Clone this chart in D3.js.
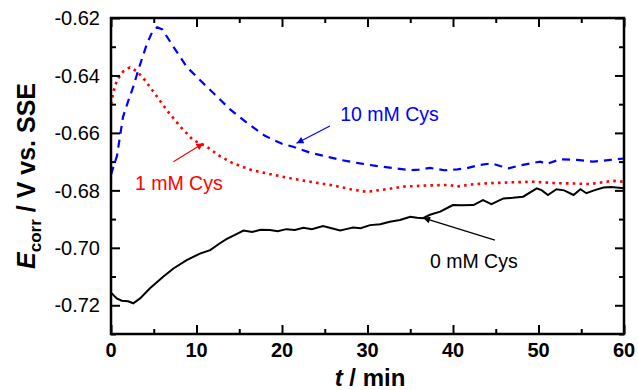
<!DOCTYPE html>
<html>
<head>
<meta charset="utf-8">
<script src="https://cdn.jsdelivr.net/npm/d3@7"></script>
<style>
  html, body { margin: 0; padding: 0; background: #fff; }
  svg { display: block; font-family: "Liberation Sans", Arial, sans-serif; }
</style>
</head>
<body>
<svg id="chart" width="638" height="390"></svg>
<script>
// Data: [t (min), Ecorr (V vs. SSE)]
const cys10 = [
  [0, -0.6745], [0.7, -0.668], [1.4, -0.6545], [2, -0.649], [2.6, -0.644], [3.2, -0.638],
  [4.2, -0.629], [4.8, -0.625], [5.4, -0.6232], [6, -0.624], [7.3, -0.630], [8.85, -0.637],
  [10.4, -0.6416], [12, -0.6462], [14, -0.652], [16, -0.6567], [18, -0.661], [20, -0.6638],
  [21.3, -0.6648], [23.3, -0.6669], [25.6, -0.6685], [27, -0.6695], [29.1, -0.6706],
  [31, -0.6715], [33, -0.6722], [35, -0.673], [36, -0.6728], [37.3, -0.6722], [39, -0.673],
  [40.5, -0.6727], [41.6, -0.6723], [43, -0.6712], [44.5, -0.6706], [45.5, -0.6715],
  [46.5, -0.6723], [48, -0.6712], [50.2, -0.670], [51, -0.6708], [52.5, -0.6692],
  [54.5, -0.6694], [56.4, -0.670], [58.4, -0.6694], [60, -0.6689]
];
const cys1 = [
  [0, -0.650], [0.3, -0.6455], [0.7, -0.6416], [1.4, -0.6387], [2.2, -0.6372], [3, -0.6385],
  [3.8, -0.641], [4.95, -0.6456], [6.5, -0.652], [8.1, -0.6578], [9.6, -0.6625],
  [11.2, -0.6648], [12.7, -0.668], [14.3, -0.6706], [16.5, -0.673], [19, -0.6746],
  [21, -0.6758], [23.3, -0.677], [26, -0.6783], [28, -0.6796], [29.9, -0.6805],
  [31.5, -0.6799], [34.2, -0.6787], [37, -0.6783], [39.6, -0.6781], [40.4, -0.6787],
  [42, -0.678], [44.3, -0.6775], [47, -0.6772], [49.4, -0.677], [52.1, -0.6775],
  [54, -0.6776], [56, -0.6778], [58.7, -0.6767], [60, -0.677]
];
const cys0 = [
  [0, -0.7156], [0.67, -0.7176], [1.25, -0.7184], [2, -0.7186], [2.6, -0.7193], [3.4, -0.7176],
  [4.56, -0.7141], [6.1, -0.7101], [7.3, -0.7072], [8.85, -0.7043], [10.4, -0.702],
  [11.6, -0.7008], [12.7, -0.6985], [13.5, -0.697], [14.5, -0.6955], [15.5, -0.694],
  [16.5, -0.6945], [17.5, -0.6937], [18.6, -0.6938], [19.5, -0.6942], [20.5, -0.6935],
  [21.5, -0.6938], [22.5, -0.693], [23.5, -0.6935], [24.8, -0.6924], [25.8, -0.6932],
  [26.8, -0.694], [27.5, -0.6935], [28.3, -0.6929], [29.2, -0.6932], [30.3, -0.6921],
  [31.5, -0.6918], [32.6, -0.6909], [33.8, -0.6903], [35, -0.6892], [35.8, -0.6895],
  [36.5, -0.6897], [37.3, -0.6885], [38.5, -0.6874], [39.6, -0.6857], [40, -0.6851],
  [41, -0.6852], [42.4, -0.6851], [43.5, -0.6834], [44.5, -0.6848], [45.9, -0.6828],
  [47, -0.6826], [48.2, -0.6822], [49.8, -0.6793], [50.4, -0.680], [51.1, -0.6816],
  [52.1, -0.6796], [53, -0.680], [54.1, -0.6816], [54.9, -0.6796], [55.6, -0.681],
  [56.5, -0.680], [57.6, -0.679], [58.5, -0.6788], [60, -0.6793]
];

// Tick values
const xTicks = [0, 10, 20, 30, 40, 50, 60];
const xMinorTicks = [5, 15, 25, 35, 45, 55];
const yTicks = [-0.72, -0.70, -0.68, -0.66, -0.64, -0.62];
const yMinorTicks = [-0.73, -0.71, -0.69, -0.67, -0.65, -0.63];

// Labels with arrows: text anchor point and arrow from -> to (data coords)
const labels = ["10 mM Cys", "1 mM Cys", "0 mM Cys"];
const labelAt = [[26.8, -0.6560], [2.8, -0.6799], [37.3, -0.7070]];
const arrowFrom = [[25.6, -0.6576], [7.3, -0.6700], [44.9, -0.6973]];
const arrowTo = [[21.7, -0.6636], [10.8, -0.6636], [36.5, -0.6896]];
const labelColors = ["#0000ff", "#ff0000", "#000000"];

const svg = d3.select("#chart");
const mLeft = 111, mRight = 624, mTop = 18, mBottom = 334;

const x = d3.scaleLinear().domain([0, 60]).range([mLeft, mRight]);
const y = d3.scaleLinear().domain([-0.73, -0.62]).range([mBottom, mTop]);

const line = d3.line().x(d => x(d[0])).y(d => y(d[1]));

// Curves
svg.append("path").datum(cys0)
  .attr("d", line).attr("fill", "none")
  .attr("stroke", "#000").attr("stroke-width", 2);

svg.append("path").datum(cys1)
  .attr("d", line).attr("fill", "none")
  .attr("stroke", "#ff0000").attr("stroke-width", 2.6)
  .attr("stroke-dasharray", "2.6,4.2");

svg.append("path").datum(cys10)
  .attr("d", line).attr("fill", "none")
  .attr("stroke", "#0000ff").attr("stroke-width", 2.2)
  .attr("stroke-dasharray", "8,6");

// Axes (ticks inward on all four sides)
const fmtY = d => d3.format(".2f")(d).replace("−", "-");

function tickAxis(axis, pos, values, size) {
  svg.append("g").attr("transform", pos)
    .call(axis.tickValues(values).tickSizeInner(-size).tickSizeOuter(0).tickFormat(""))
    .call(g => g.selectAll("line").attr("stroke-width", 2))
    .call(g => g.select(".domain").remove());
}
tickAxis(d3.axisBottom(x), `translate(0,${mBottom})`, xTicks, 9);
tickAxis(d3.axisBottom(x), `translate(0,${mBottom})`, xMinorTicks, 5);
tickAxis(d3.axisTop(x), `translate(0,${mTop})`, xTicks, 9);
tickAxis(d3.axisTop(x), `translate(0,${mTop})`, xMinorTicks, 5);
tickAxis(d3.axisLeft(y), `translate(${mLeft},0)`, yTicks, 9);
tickAxis(d3.axisLeft(y), `translate(${mLeft},0)`, yMinorTicks, 5);
tickAxis(d3.axisRight(y), `translate(${mRight},0)`, yTicks, 9);
tickAxis(d3.axisRight(y), `translate(${mRight},0)`, yMinorTicks, 5);

// Frame
svg.append("rect")
  .attr("x", mLeft).attr("y", mTop)
  .attr("width", mRight - mLeft).attr("height", mBottom - mTop)
  .attr("fill", "none").attr("stroke", "#000").attr("stroke-width", 2.5);

// Tick labels
svg.append("g").selectAll("text").data(xTicks).join("text")
  .attr("x", d => x(d)).attr("y", 357)
  .attr("text-anchor", "middle")
  .attr("font-size", 20).attr("font-weight", "bold")
  .text(d => d);

svg.append("g").selectAll("text").data(yTicks).join("text")
  .attr("x", 100).attr("y", d => y(d))
  .attr("dy", "0.36em")
  .attr("text-anchor", "end")
  .attr("font-size", 20)
  .text(fmtY);

// Axis titles
const xt = svg.append("text")
  .attr("x", 370).attr("y", 386)
  .attr("text-anchor", "middle")
  .attr("font-size", 24).attr("font-weight", "bold");
xt.append("tspan").attr("font-style", "italic").text("t");
xt.append("tspan").text(" / min");

const yt = svg.append("text")
  .attr("transform", `translate(35,${(mTop + mBottom) / 2}) rotate(-90)`)
  .attr("text-anchor", "middle")
  .attr("font-size", 25).attr("font-weight", "bold");
yt.append("tspan").attr("font-style", "italic").text("E");
yt.append("tspan").attr("font-size", 17).attr("dy", 6).text("corr");
yt.append("tspan").attr("dy", -6).text(" / V vs. SSE");

// Annotations
const defs = svg.append("defs");
labelColors.forEach((c, i) => {
  defs.append("marker")
    .attr("id", `arrow${i}`)
    .attr("viewBox", "0 0 10 10")
    .attr("refX", 10).attr("refY", 5)
    .attr("markerUnits", "userSpaceOnUse")
    .attr("markerWidth", 10).attr("markerHeight", 7)
    .attr("orient", "auto")
    .append("path").attr("d", "M0,0 L10,5 L0,10 Z").attr("fill", c);
});

labels.forEach((lab, i) => {
  svg.append("line")
    .attr("x1", x(arrowFrom[i][0])).attr("y1", y(arrowFrom[i][1]))
    .attr("x2", x(arrowTo[i][0])).attr("y2", y(arrowTo[i][1]))
    .attr("stroke", labelColors[i]).attr("stroke-width", 1.2)
    .attr("marker-end", `url(#arrow${i})`);
  svg.append("text")
    .attr("x", x(labelAt[i][0])).attr("y", y(labelAt[i][1]))
    .attr("font-size", 19.5)
    .attr("fill", labelColors[i])
    .text(lab);
});
</script>
</body>
</html>
